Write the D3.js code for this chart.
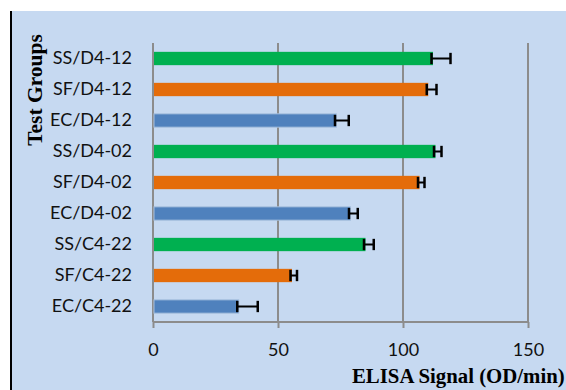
<!DOCTYPE html>
<html>
<head>
<meta charset="utf-8">
<script src="https://cdn.jsdelivr.net/npm/d3@7"></script>
<style>
  html, body { margin: 0; padding: 0; background: #ffffff; }
  svg { display: block; }
</style>
</head>
<body>
<svg id="chart" width="566" height="390"></svg>
<script>
// ---- data (top to bottom as drawn) ----
const categories = ["SS/D4-12", "SF/D4-12", "EC/D4-12", "SS/D4-02", "SF/D4-02", "EC/D4-02", "SS/C4-22", "SF/C4-22", "EC/C4-22"];
const values     = [112, 110.1, 73.4, 113, 106.6, 79, 85, 55.6, 34.3];
const errors     = [7, 3.3, 4.9, 2.4, 2, 2.9, 3.3, 2, 7.6];
const groupNames = ["EC", "SF", "SS"];
const groupColors = ["#4f81bd", "#e46c0a", "#00b050"];
const xTicks = [0, 50, 100, 150];
const xTitle = "ELISA Signal (OD/min)";
const yTitle = "Test Groups";

const W = 566, H = 390;
const svg = d3.select("#chart");

// background panel
svg.append("rect").attr("x", 12).attr("y", 11).attr("width", W - 12).attr("height", H - 11).attr("fill", "#c6d9f1");
svg.append("line").attr("x1", 11).attr("x2", 11).attr("y1", 11).attr("y2", H).attr("stroke", "#000").attr("stroke-width", 2);

const x = d3.scaleLinear().domain([0, 150]).range([153, 528]);
const y = d3.scaleBand().domain(categories).range([43, 322]).paddingInner(0.57).paddingOuter(0.285);
const color = d3.scaleOrdinal().domain(groupNames).range(groupColors);

const gridColor = "#8c8c8c";
const labelFont = "Lato, 'Open Sans', sans-serif";

// gridlines
svg.append("g").selectAll("line").data(xTicks).join("line")
  .attr("x1", d => x(d)).attr("x2", d => x(d))
  .attr("y1", 43).attr("y2", 322)
  .attr("stroke", gridColor).attr("stroke-width", 2);

// x axis
const xAxis = svg.append("g").attr("transform", "translate(0,322)")
  .call(d3.axisBottom(x).tickValues(xTicks).tickSize(6).tickPadding(15).tickFormat(d3.format("d")));
xAxis.select(".domain").attr("stroke", gridColor).attr("stroke-width", 2).attr("d", `M${x(0)},0H${x(150)}`);
xAxis.selectAll(".tick line").attr("stroke", gridColor).attr("stroke-width", 2);
xAxis.selectAll(".tick text").attr("font-family", labelFont).attr("font-size", 18).attr("fill", "#111");

// y axis labels
const yAxis = svg.append("g").attr("transform", `translate(${x(0)},0)`)
  .call(d3.axisLeft(y).tickSize(0).tickPadding(21));
yAxis.select(".domain").remove();
yAxis.selectAll(".tick text").attr("font-family", labelFont).attr("font-size", 18).attr("fill", "#111");

// bars
svg.append("g").selectAll("rect").data(categories).join("rect")
  .attr("x", x(0) + 1)
  .attr("y", d => y(d))
  .attr("width", (d, i) => x(values[i]) - x(0) - 1)
  .attr("height", y.bandwidth())
  .attr("fill", d => color(d.split("/")[0]))
  .attr("stroke", d => d.startsWith("EC") ? "#a7c0de" : "none")
  .attr("stroke-width", 1);

// error bars
const eb = svg.append("g").attr("stroke", "#000").attr("stroke-width", 2).attr("fill", "none");
categories.forEach((c, i) => {
  const cy = y(c) + y.bandwidth() / 2;
  const x0 = x(values[i]) - 1.5;
  const x1 = x(values[i] + errors[i]);
  const hh = y.bandwidth() / 2 - 1;
  eb.append("line").attr("x1", x0).attr("x2", x1).attr("y1", cy).attr("y2", cy);
  eb.append("line").attr("x1", x0).attr("x2", x0).attr("y1", cy - hh).attr("y2", cy + hh).attr("stroke-width", 2.5);
  eb.append("line").attr("x1", x1).attr("x2", x1).attr("y1", cy - hh).attr("y2", cy + hh).attr("stroke-width", 2.5);
});

// titles
svg.append("text").attr("x", 352).attr("y", 383)
  .attr("font-family", "'Liberation Serif', 'Times New Roman', serif").attr("font-weight", "bold")
  .attr("font-size", 20.8).attr("fill", "#000").text(xTitle);
svg.append("text").attr("transform", "translate(42,90) rotate(-90)").attr("text-anchor", "middle")
  .attr("font-family", "'Liberation Serif', 'Times New Roman', serif").attr("font-weight", "bold")
  .attr("font-size", 21.5).attr("fill", "#000").text(yTitle);
</script>
</body>
</html>
